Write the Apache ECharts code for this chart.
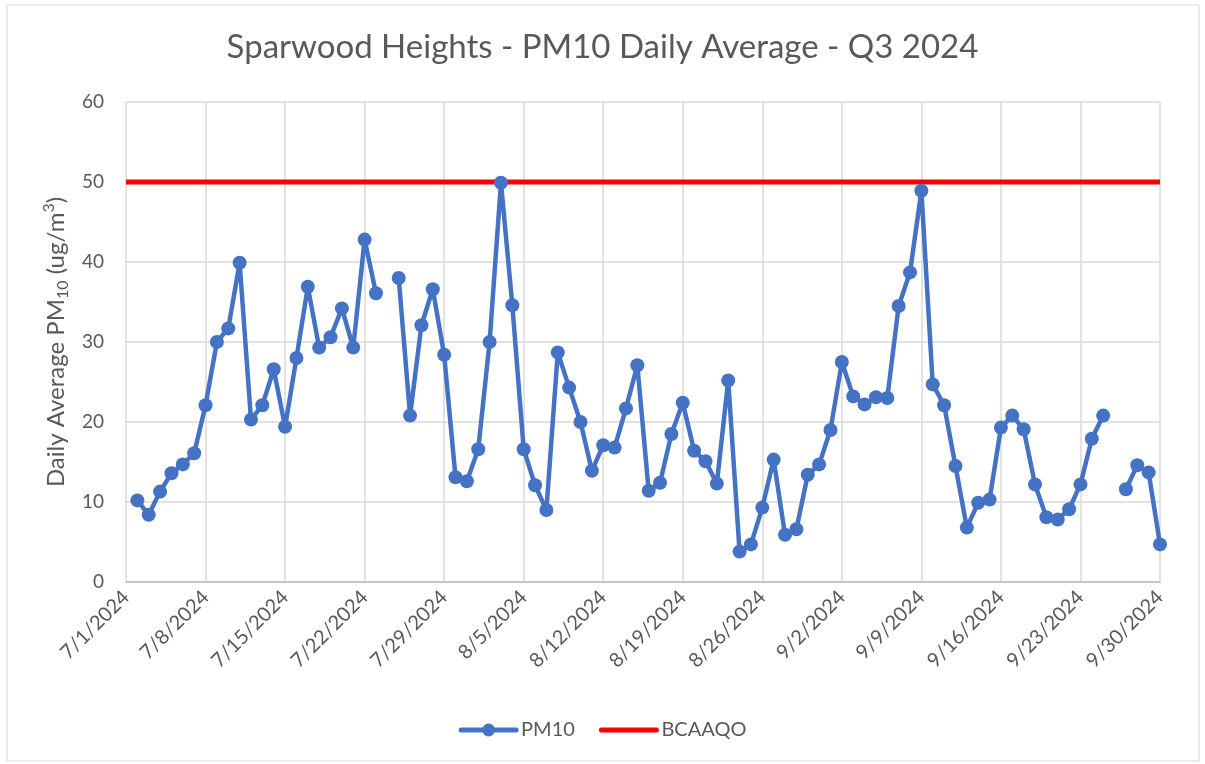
<!DOCTYPE html>
<html>
<head>
<meta charset="utf-8">
<title>Sparwood Heights PM10</title>
<script src="https://cdn.jsdelivr.net/npm/echarts@6.0.0/dist/echarts.min.js"></script>
<style>
  html, body { margin: 0; padding: 0; background: #fff; }
  .main { width: 1205px; height: 764px; }
</style>
</head>
<body>
<div class="main"></div>
<script>
// days of Q3 2024, 7/1 .. 9/30 (axis categories)
const dates = [];
for (let i = 0; i < 92; i++) {
    let d = new Date(2024, 6, 1 + i);
    dates.push((d.getMonth() + 1) + '/' + d.getDate() + '/' + d.getFullYear());
}

// PM10 daily averages, '-' = no data
const pm10 = [
    '-', 10.2, 8.4, 11.3, 13.6, 14.7, 16.1, 22.1, 30.0, 31.7, 39.9, 20.3, 22.1, 26.6,
    19.4, 28.0, 36.9, 29.3, 30.6, 34.2, 29.3, 42.8, 36.1, '-', 38.0, 20.8, 32.1, 36.6,
    28.4, 13.1, 12.6, 16.6, 30.0, 49.9, 34.6, 16.6, 12.1, 9.0, 28.7, 24.3, 20.0, 13.9,
    17.1, 16.8, 21.7, 27.1, 11.4, 12.4, 18.5, 22.4, 16.4, 15.1, 12.3, 25.2, 3.8, 4.7,
    9.3, 15.3, 5.9, 6.6, 13.4, 14.7, 19.0, 27.5, 23.2, 22.2, 23.1, 23.0, 34.5, 38.7,
    48.9, 24.7, 22.1, 14.5, 6.8, 9.9, 10.3, 19.3, 20.8, 19.1, 12.2, 8.1, 7.8, 9.1,
    12.2, 17.9, 20.8, '-', 11.6, 14.6, 13.7, 4.7
];

// BC ambient air quality objective
const bcaaqo = 50;
const bcaaqoLine = [[dates[0], bcaaqo], [dates[dates.length - 1], bcaaqo]];

const yTicks = { min: 0, max: 60, step: 10 };

window.addEventListener('load', function () {
    let main = document.querySelectorAll('.main');
    let chart = echarts.init(main[0]);
    let txt = '#595959';
    let option = {
        backgroundColor: '#fff',
        textStyle: { fontFamily: 'Lato' },
        title: {
            text: 'Sparwood Heights - PM10 Daily Average - Q3 2024',
            left: 'center',
            top: 26,
            textStyle: { fontFamily: 'Lato', fontSize: 33, fontWeight: 'normal', color: txt }
        },
        graphic: [{
            type: 'rect',
            shape: { x: 7, y: 5, width: 1192, height: 756 },
            style: { fill: 'none', stroke: '#d9d9d9', lineWidth: 1 },
            silent: true
        }],
        legend: {
            bottom: 19,
            left: 'center',
            itemWidth: 55,
            itemHeight: 16,
            itemGap: 24,
            lineStyle: { width: 5, cap: 'round' },
            textStyle: { fontFamily: 'Lato', fontSize: 20, color: txt },
            data: [
                { name: 'PM10' },
                { name: 'BCAAQO', itemStyle: { color: 'rgba(0,0,0,0)', borderColor: 'rgba(0,0,0,0)', borderWidth: 0 } }
            ]
        },
        grid: { left: 126, right: 45, top: 102, bottom: 182 },
        xAxis: {
            type: 'category',
            data: dates,
            boundaryGap: false,
            axisLine: { lineStyle: { color: '#bfbfbf', width: 1.5 } },
            axisTick: { show: false },
            axisLabel: {
                interval: 6,
                rotate: 45,
                margin: 12,
                fontSize: 20,
                color: txt,
                fontFamily: 'Lato'
            },
            splitLine: { show: true, interval: 6, lineStyle: { color: '#d9d9d9', width: 1.5 } }
        },
        yAxis: {
            type: 'value',
            min: yTicks.min,
            max: yTicks.max,
            interval: yTicks.step,
            name: 'Daily Average PM{sub|10} (ug/m{sup|3})',
            nameLocation: 'middle',
            nameGap: 52,
            nameTextStyle: {
                fontFamily: 'Lato',
                fontSize: 24,
                color: txt,
                lineHeight: 30,
                rich: {
                    sub: { fontSize: 16, color: txt, fontFamily: 'Lato', verticalAlign: 'bottom', lineHeight: 30 },
                    sup: { fontSize: 16, color: txt, fontFamily: 'Lato', verticalAlign: 'top', lineHeight: 30 }
                }
            },
            axisLine: { show: false },
            axisTick: { show: false },
            axisLabel: { fontSize: 19, color: txt, margin: 22, fontFamily: 'Lato' },
            splitLine: { lineStyle: { color: '#d9d9d9', width: 1.5 } }
        },
        series: [
            {
                name: 'PM10',
                type: 'line',
                data: pm10,
                symbol: 'circle',
                symbolSize: 14,
                showAllSymbol: true,
                color: '#4472C4',
                lineStyle: { width: 4.5, color: '#4472C4' },
                itemStyle: { color: '#4472C4' },
                connectNulls: false,
                z: 3
            },
            {
                name: 'BCAAQO',
                type: 'line',
                data: bcaaqoLine,
                symbol: 'none',
                color: '#ff0000',
                lineStyle: { width: 5, color: '#ff0000' },
                z: 2
            }
        ]
    };
    chart.setOption(option);
});
</script>
</body>
</html>
